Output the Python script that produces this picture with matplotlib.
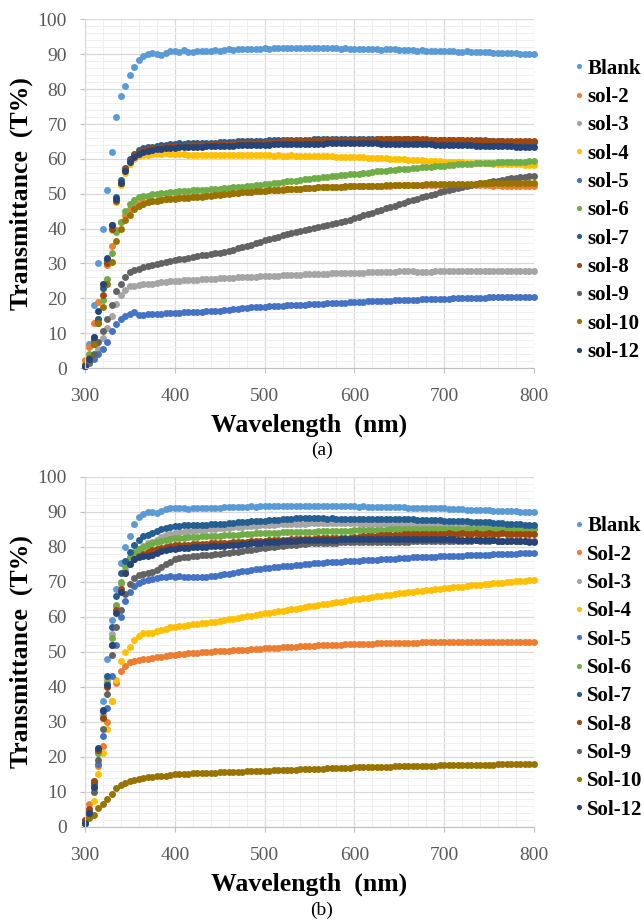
import matplotlib

matplotlib.use("Agg")

import matplotlib.pyplot as plt
from matplotlib.ticker import MultipleLocator

# wavelength grid of the scans (nm)
wavelength = list(range(300, 805, 5))

labels_a = ["Blank", "sol-2", "sol-3", "sol-4", "sol-5", "sol-6",
            "sol-7", "sol-8", "sol-9", "sol-10", "sol-12"]
labels_b = ["Blank", "Sol-2", "Sol-3", "Sol-4", "Sol-5", "Sol-6",
            "Sol-7", "Sol-8", "Sol-9", "Sol-10", "Sol-12"]
colors = ["#5B9BD5", "#ED7D31", "#A5A5A5", "#FFC000", "#4472C4", "#70AD47",
          "#255E91", "#9E480E", "#636363", "#997300", "#264478"]

# ---- panel (a) transmittance (%) ----
blank_a = [
    1.0, 7.0, 18.0, 30.0, 40.0, 51.0, 62.0, 72.0, 78.0, 81.0,
    84.0, 86.5, 88.5, 89.5, 90.0, 90.3, 90.0, 89.7, 90.4, 90.9,
    91.0, 90.8, 91.2, 90.8, 90.7, 90.9, 91.0, 90.9, 91.1, 91.2,
    91.1, 91.3, 91.4, 91.3, 91.5, 91.4, 91.5, 91.6, 91.5, 91.6,
    91.7, 91.6, 91.7, 91.8, 91.7, 91.8, 91.8, 91.7, 91.8, 91.8,
    91.8, 91.7, 91.8, 91.7, 91.8, 91.7, 91.7, 91.6, 91.7, 91.6,
    91.6, 91.6, 91.5, 91.5, 91.4, 91.4, 91.3, 91.4, 91.5, 91.4,
    91.3, 91.2, 91.3, 91.2, 91.1, 91.2, 91.1, 91.1, 91.0, 91.0,
    91.0, 90.9, 90.9, 90.8, 90.8, 90.9, 90.8, 90.7, 90.7, 90.6,
    90.6, 90.5, 90.5, 90.4, 90.4, 90.3, 90.3, 90.2, 90.1, 90.1,
    90.0]
sol2_a = [
    2.3, 6.0, 13.0, 19.0, 24.0, 29.5, 35.0, 39.5, 42.0, 44.0,
    45.5, 46.5, 47.0, 47.5, 47.5, 48.0, 48.0, 48.5, 48.5, 48.7,
    48.8, 49.0, 49.0, 49.2, 49.3, 49.4, 49.5, 49.6, 49.7, 49.8,
    49.9, 50.0, 50.1, 50.2, 50.3, 50.4, 50.5, 50.6, 50.7, 50.8,
    50.9, 51.0, 51.1, 51.2, 51.3, 51.3, 51.4, 51.5, 51.5, 51.6,
    51.7, 51.7, 51.8, 51.8, 51.9, 51.9, 52.0, 52.0, 52.0, 52.1,
    52.1, 52.1, 52.2, 52.2, 52.2, 52.3, 52.3, 52.3, 52.3, 52.4,
    52.4, 52.4, 52.4, 52.4, 52.5, 52.5, 52.5, 52.5, 52.5, 52.5,
    52.5, 52.5, 52.5, 52.5, 52.5, 52.4, 52.5, 52.4, 52.4, 52.4,
    52.4, 52.3, 52.4, 52.3, 52.3, 52.3, 52.2, 52.3, 52.2, 52.2,
    52.2]
sol3_a = [
    0.5, 1.5, 3.0, 5.5, 8.5, 11.5, 15.0, 18.5, 21.0, 22.5,
    23.5, 23.5, 23.8, 24.0, 24.2, 24.0, 24.3, 24.6, 24.8, 24.9,
    25.0, 25.1, 25.2, 25.3, 25.3, 25.4, 25.5, 25.5, 25.6, 25.6,
    25.7, 25.8, 25.8, 25.9, 26.0, 26.0, 26.1, 26.2, 26.2, 26.3,
    26.3, 26.4, 26.5, 26.5, 26.6, 26.6, 26.7, 26.8, 26.8, 26.9,
    26.9, 27.0, 27.0, 27.1, 27.1, 27.2, 27.2, 27.3, 27.3, 27.3,
    27.4, 27.4, 27.4, 27.5, 27.5, 27.5, 27.6, 27.6, 27.6, 27.6,
    27.7, 27.8, 27.7, 27.7, 27.6, 27.5, 27.6, 27.6, 27.7, 27.7,
    27.7, 27.8, 27.7, 27.7, 27.8, 27.7, 27.7, 27.8, 27.7, 27.7,
    27.8, 27.7, 27.7, 27.8, 27.7, 27.7, 27.8, 27.7, 27.7, 27.7,
    27.7]
sol4_a = [
    1.0, 3.0, 8.0, 14.0, 23.0, 30.0, 39.5, 47.5, 52.5, 56.0,
    58.5, 60.0, 60.8, 61.0, 61.2, 61.5, 61.3, 61.5, 61.8, 61.5,
    61.5, 61.4, 61.3, 61.2, 61.2, 61.1, 61.1, 61.0, 61.1, 61.0,
    61.1, 61.0, 61.0, 61.1, 61.0, 61.0, 61.1, 61.0, 61.0, 61.0,
    61.0, 61.0, 60.9, 61.0, 60.9, 60.9, 61.0, 60.9, 60.9, 60.9,
    60.8, 60.8, 60.8, 60.7, 60.7, 60.7, 60.6, 60.6, 60.6, 60.6,
    60.6, 60.5, 60.5, 60.4, 60.4, 60.3, 60.2, 60.2, 60.1, 60.0,
    60.0, 59.9, 59.8, 59.7, 59.7, 59.6, 59.5, 59.5, 59.4, 59.3,
    59.2, 59.2, 59.1, 59.0, 59.0, 58.9, 58.9, 58.8, 58.8, 58.7,
    58.7, 58.6, 58.6, 58.5, 58.5, 58.5, 58.4, 58.4, 58.3, 58.3,
    58.3]
sol5_a = [
    0.5, 1.5, 2.5, 4.0, 5.5, 7.5, 10.5, 12.5, 14.0, 15.0,
    15.5, 16.2, 15.2, 15.3, 15.4, 15.5, 15.5, 15.6, 15.7, 15.8,
    15.9, 15.9, 16.0, 16.0, 16.1, 16.1, 16.2, 16.3, 16.3, 16.4,
    16.5, 16.6, 16.7, 16.9, 17.0, 17.2, 17.3, 17.4, 17.4, 17.5,
    17.6, 17.7, 17.8, 17.8, 17.9, 18.0, 18.0, 18.1, 18.2, 18.2,
    18.3, 18.4, 18.4, 18.5, 18.6, 18.6, 18.7, 18.8, 18.8, 18.9,
    18.9, 19.0, 19.0, 19.1, 19.1, 19.2, 19.3, 19.3, 19.3, 19.4,
    19.4, 19.5, 19.5, 19.6, 19.6, 19.7, 19.7, 19.8, 19.8, 19.9,
    19.9, 19.9, 20.0, 20.0, 20.0, 20.1, 20.1, 20.2, 20.2, 20.2,
    20.3, 20.3, 20.3, 20.4, 20.4, 20.4, 20.5, 20.5, 20.5, 20.5,
    20.5]
sol6_a = [
    1.0, 4.0, 9.0, 14.0, 19.5, 25.5, 33.0, 39.0, 42.0, 45.0,
    47.0, 48.2, 49.0, 49.3, 49.5, 49.8, 50.0, 50.1, 50.3, 50.5,
    50.6, 50.7, 50.8, 50.9, 51.0, 51.1, 51.1, 51.2, 51.3, 51.4,
    51.5, 51.6, 51.7, 51.8, 51.9, 52.0, 52.2, 52.3, 52.4, 52.6,
    52.7, 52.9, 53.1, 53.2, 53.4, 53.6, 53.7, 53.8, 54.0, 54.1,
    54.3, 54.5, 54.6, 54.8, 54.9, 55.0, 55.2, 55.3, 55.4, 55.6,
    55.7, 55.8, 56.0, 56.1, 56.2, 56.4, 56.5, 56.6, 56.7, 56.9,
    57.0, 57.1, 57.2, 57.3, 57.5, 57.6, 57.7, 57.8, 57.9, 58.0,
    58.1, 58.2, 58.3, 58.4, 58.5, 58.5, 58.6, 58.7, 58.8, 58.8,
    58.9, 58.9, 59.0, 59.0, 59.1, 59.1, 59.2, 59.2, 59.2, 59.3,
    59.3]
sol7_a = [
    0.5, 2.5, 8.0, 14.0, 23.0, 31.0, 41.0, 49.0, 54.0, 57.5,
    60.0, 61.5, 62.5, 63.0, 63.3, 63.5, 63.7, 64.0, 64.1, 64.2,
    64.4, 64.5, 64.4, 64.5, 64.6, 64.5, 64.6, 64.7, 64.6, 64.7,
    64.8, 64.8, 64.9, 64.9, 65.0, 65.0, 65.1, 65.1, 65.1, 65.2,
    65.2, 65.3, 65.3, 65.3, 65.4, 65.4, 65.4, 65.5, 65.5, 65.5,
    65.5, 65.6, 65.6, 65.6, 65.6, 65.7, 65.6, 65.7, 65.7, 65.7,
    65.7, 65.7, 65.7, 65.8, 65.7, 65.7, 65.8, 65.7, 65.7, 65.7,
    65.7, 65.6, 65.6, 65.6, 65.6, 65.5, 65.5, 65.5, 65.5, 65.4,
    65.4, 65.4, 65.3, 65.3, 65.3, 65.2, 65.2, 65.2, 65.1, 65.1,
    65.1, 65.0, 65.0, 65.0, 64.9, 64.9, 64.9, 64.8, 64.8, 64.8,
    64.8]
sol8_a = [
    1.0, 3.0, 7.0, 13.0, 21.0, 30.0, 40.0, 48.0, 53.0, 57.0,
    59.5, 61.0, 62.0, 62.5, 62.8, 63.0, 63.2, 63.4, 63.5, 63.6,
    63.7, 63.8, 63.8, 63.9, 64.0, 64.0, 64.1, 64.1, 64.2, 64.2,
    64.3, 64.3, 64.4, 64.4, 64.5, 64.5, 64.6, 64.6, 64.7, 64.7,
    64.8, 64.8, 64.9, 64.9, 65.0, 65.0, 65.0, 65.1, 65.1, 65.1,
    65.2, 65.2, 65.2, 65.3, 65.3, 65.3, 65.4, 65.4, 65.4, 65.4,
    65.5, 65.5, 65.5, 65.5, 65.5, 65.6, 65.6, 65.6, 65.6, 65.6,
    65.6, 65.6, 65.6, 65.6, 65.6, 65.6, 65.6, 65.5, 65.5, 65.5,
    65.5, 65.5, 65.4, 65.4, 65.4, 65.4, 65.3, 65.3, 65.3, 65.3,
    65.2, 65.2, 65.2, 65.1, 65.1, 65.1, 65.0, 65.0, 65.0, 65.0,
    65.0]
sol9_a = [
    0.5, 2.0, 4.0, 7.5, 10.5, 14.0, 18.0, 22.0, 24.0, 26.0,
    27.5, 28.0, 28.5, 29.0, 29.2, 29.5, 29.8, 30.2, 30.5, 30.7,
    31.0, 31.2, 31.4, 31.6, 31.8, 32.0, 32.3, 32.5, 32.7, 32.9,
    33.1, 33.4, 33.7, 34.0, 34.3, 34.7, 35.0, 35.4, 35.8, 36.2,
    36.7, 37.0, 37.4, 37.7, 38.1, 38.4, 38.8, 39.1, 39.4, 39.7,
    40.0, 40.2, 40.5, 40.7, 41.0, 41.3, 41.6, 41.9, 42.2, 42.6,
    43.0, 43.4, 43.8, 44.2, 44.6, 45.0, 45.4, 45.8, 46.2, 46.6,
    47.0, 47.4, 47.8, 48.2, 48.6, 49.0, 49.3, 49.7, 50.0, 50.4,
    50.7, 51.0, 51.3, 51.6, 51.9, 52.2, 52.4, 52.7, 53.0, 53.2,
    53.4, 53.6, 53.8, 54.0, 54.2, 54.4, 54.5, 54.7, 54.8, 55.0,
    55.0]
sol10_a = [
    1.0, 3.0, 7.0, 13.0, 17.5, 24.0, 30.5, 36.5, 40.0, 42.5,
    44.0, 45.5, 46.5, 47.0, 47.5, 47.8, 48.0, 48.2, 48.4, 48.5,
    48.6, 48.7, 48.8, 48.9, 49.0, 49.1, 49.2, 49.4, 49.5, 49.6,
    49.7, 49.8, 50.0, 50.1, 50.2, 50.4, 50.5, 50.6, 50.7, 50.8,
    50.9, 51.0, 51.1, 51.2, 51.2, 51.3, 51.4, 51.5, 51.5, 51.6,
    51.7, 51.7, 51.8, 51.8, 51.9, 51.9, 52.0, 52.0, 52.1, 52.1,
    52.1, 52.2, 52.2, 52.2, 52.3, 52.3, 52.3, 52.4, 52.4, 52.4,
    52.5, 52.5, 52.5, 52.6, 52.6, 52.6, 52.7, 52.7, 52.7, 52.7,
    52.8, 52.8, 52.8, 52.8, 52.9, 52.9, 52.9, 52.9, 53.0, 53.0,
    53.0, 53.0, 53.0, 53.1, 53.1, 53.1, 53.1, 53.1, 53.2, 53.2,
    53.2]
sol12_a = [
    0.5, 2.5, 9.0, 16.5, 24.0, 31.5, 41.0, 48.5, 53.0, 56.5,
    59.0, 60.5, 61.5, 62.0, 62.3, 62.5, 62.7, 62.8, 63.0, 63.1,
    63.2, 63.3, 63.3, 63.4, 63.4, 63.5, 63.5, 63.6, 63.6, 63.7,
    63.7, 63.8, 63.8, 63.8, 63.9, 63.9, 64.0, 64.0, 64.0, 64.1,
    64.1, 64.1, 64.2, 64.2, 64.2, 64.3, 64.3, 64.3, 64.3, 64.4,
    64.4, 64.4, 64.4, 64.4, 64.5, 64.5, 64.5, 64.5, 64.5, 64.5,
    64.5, 64.5, 64.5, 64.5, 64.5, 64.5, 64.4, 64.4, 64.4, 64.4,
    64.4, 64.3, 64.3, 64.3, 64.3, 64.2, 64.2, 64.2, 64.1, 64.1,
    64.1, 64.0, 64.0, 64.0, 63.9, 63.9, 63.9, 63.8, 63.8, 63.8,
    63.7, 63.7, 63.7, 63.6, 63.6, 63.6, 63.5, 63.5, 63.5, 63.5,
    63.5]

# ---- panel (b) transmittance (%) ----
blank_b = [
    1.0, 5.0, 13.0, 21.0, 36.0, 48.0, 59.0, 68.0, 75.5, 80.0,
    83.0, 86.5, 88.5, 89.3, 90.0, 90.0, 89.8, 90.3, 90.8, 91.0,
    91.0, 91.1, 91.0, 90.9, 91.0, 91.0, 91.1, 91.0, 91.1, 91.2,
    91.2, 91.3, 91.3, 91.4, 91.4, 91.5, 91.5, 91.6, 91.5, 91.6,
    91.6, 91.7, 91.6, 91.7, 91.8, 91.7, 91.7, 91.8, 91.7, 91.7,
    91.8, 91.7, 91.8, 91.7, 91.6, 91.7, 91.6, 91.7, 91.6, 91.6,
    91.6, 91.5, 91.6, 91.5, 91.5, 91.4, 91.5, 91.4, 91.4, 91.3,
    91.3, 91.3, 91.2, 91.2, 91.1, 91.2, 91.1, 91.1, 91.0, 91.0,
    91.0, 90.9, 90.9, 90.8, 90.8, 90.7, 90.7, 90.6, 90.6, 90.5,
    90.5, 90.4, 90.4, 90.3, 90.3, 90.2, 90.2, 90.1, 90.1, 90.0,
    90.0]
sol2_b = [
    2.0, 6.5, 12.0, 17.5, 23.0, 30.0, 36.0, 41.0, 44.5, 46.0,
    47.0, 47.5, 47.8, 48.0, 48.0, 48.3, 48.5, 48.6, 48.8, 49.0,
    49.2, 49.3, 49.4, 49.6, 49.7, 49.8, 49.9, 50.0, 50.1, 50.2,
    50.3, 50.4, 50.4, 50.5, 50.6, 50.7, 50.7, 50.8, 50.9, 50.9,
    51.0, 51.1, 51.2, 51.2, 51.3, 51.4, 51.4, 51.5, 51.6, 51.7,
    51.8, 51.8, 51.9, 51.9, 52.0, 52.0, 52.1, 52.1, 52.2, 52.2,
    52.3, 52.3, 52.4, 52.4, 52.4, 52.5, 52.5, 52.5, 52.6, 52.6,
    52.7, 52.7, 52.7, 52.7, 52.7, 52.8, 52.8, 52.8, 52.8, 52.8,
    52.8, 52.8, 52.9, 52.8, 52.8, 52.8, 52.9, 52.8, 52.8, 52.8,
    52.8, 52.9, 52.8, 52.8, 52.8, 52.9, 52.8, 52.8, 52.8, 52.8,
    52.8]
sol3_b = [
    1.0, 4.0, 12.0, 22.0, 32.0, 42.0, 55.0, 63.0, 69.5, 73.5,
    76.5, 78.0, 79.5, 80.3, 81.0, 81.5, 82.0, 82.8, 83.3, 83.7,
    84.0, 84.2, 84.4, 84.5, 84.6, 84.8, 84.9, 85.0, 85.1, 85.2,
    85.3, 85.4, 85.5, 85.6, 85.7, 85.8, 85.9, 86.0, 86.1, 86.2,
    86.3, 86.3, 86.4, 86.5, 86.5, 86.6, 86.6, 86.7, 86.7, 86.7,
    86.8, 86.8, 86.9, 86.8, 86.8, 86.9, 86.8, 86.8, 86.9, 86.8,
    86.8, 86.8, 86.7, 86.7, 86.7, 86.7, 86.6, 86.6, 86.6, 86.5,
    86.5, 86.5, 86.5, 86.4, 86.4, 86.4, 86.4, 86.3, 86.3, 86.3,
    86.3, 86.2, 86.2, 86.2, 86.1, 86.1, 86.1, 86.0, 86.0, 86.0,
    86.0, 85.9, 85.9, 85.8, 85.8, 85.7, 85.7, 85.6, 85.6, 85.5,
    85.5]
sol4_b = [
    1.0, 3.0, 7.5, 15.0, 21.0, 28.0, 36.0, 42.0, 47.5, 50.0,
    51.5, 53.5, 54.5, 55.3, 55.5, 55.5, 56.0, 56.3, 56.7, 57.0,
    57.2, 57.4, 57.5, 57.7, 57.9, 58.0, 58.2, 58.4, 58.5, 58.7,
    58.8, 59.0, 59.3, 59.5, 59.7, 60.0, 60.2, 60.4, 60.6, 60.8,
    61.0, 61.2, 61.4, 61.6, 61.8, 62.0, 62.2, 62.4, 62.6, 62.8,
    63.0, 63.2, 63.4, 63.6, 63.8, 64.0, 64.2, 64.4, 64.6, 64.8,
    65.0, 65.2, 65.4, 65.5, 65.7, 65.9, 66.1, 66.3, 66.4, 66.6,
    66.8, 66.9, 67.1, 67.2, 67.4, 67.5, 67.7, 67.8, 67.9, 68.1,
    68.2, 68.3, 68.5, 68.6, 68.7, 68.8, 69.0, 69.1, 69.2, 69.4,
    69.5, 69.6, 69.7, 69.8, 70.0, 70.1, 70.2, 70.3, 70.4, 70.5,
    70.6]
sol5_b = [
    1.0, 4.0, 11.0, 18.0, 26.0, 34.0, 43.0, 52.0, 60.0, 64.5,
    67.0, 68.8, 69.8, 70.3, 70.6, 70.8, 71.2, 71.5, 71.4, 71.6,
    71.5, 71.6, 71.5, 71.4, 71.5, 71.3, 71.4, 71.5, 71.6, 71.8,
    72.0, 72.2, 72.4, 72.6, 72.8, 73.0, 73.2, 73.4, 73.6, 73.8,
    74.0, 74.1, 74.2, 74.4, 74.5, 74.6, 74.7, 74.8, 74.9, 75.1,
    75.2, 75.3, 75.4, 75.5, 75.6, 75.7, 75.8, 75.8, 75.9, 76.0,
    76.0, 76.1, 76.2, 76.3, 76.4, 76.4, 76.5, 76.6, 76.7, 76.7,
    76.8, 76.8, 76.9, 77.0, 77.0, 77.1, 77.1, 77.2, 77.2, 77.3,
    77.3, 77.4, 77.4, 77.5, 77.5, 77.6, 77.6, 77.7, 77.7, 77.8,
    77.8, 77.9, 77.9, 78.0, 78.0, 78.1, 78.1, 78.2, 78.2, 78.3,
    78.3]
sol6_b = [
    1.0, 4.0, 12.0, 21.0, 31.0, 41.0, 54.0, 63.5, 70.0, 74.5,
    77.0, 78.5, 79.5, 80.0, 80.5, 81.0, 81.5, 81.8, 82.0, 82.3,
    82.5, 82.6, 82.7, 82.8, 82.9, 82.9, 83.0, 83.1, 83.1, 83.2,
    83.2, 83.3, 83.4, 83.5, 83.5, 83.6, 83.7, 83.8, 83.9, 83.9,
    84.0, 84.0, 84.1, 84.1, 84.2, 84.2, 84.3, 84.3, 84.3, 84.4,
    84.4, 84.4, 84.5, 84.5, 84.6, 84.6, 84.6, 84.7, 84.7, 84.7,
    84.8, 84.8, 84.8, 84.8, 84.9, 84.9, 84.9, 84.9, 85.0, 85.0,
    85.0, 85.1, 85.0, 85.0, 85.1, 85.0, 85.0, 85.1, 85.0, 85.0,
    85.0, 85.1, 85.0, 85.0, 84.9, 85.0, 85.0, 85.1, 85.0, 85.0,
    85.0, 84.9, 85.0, 85.0, 85.1, 85.0, 85.0, 84.9, 85.0, 85.0,
    85.0]
sol7_b = [
    1.0, 4.5, 12.5, 22.0, 33.0, 43.0, 57.0, 66.0, 72.5, 76.0,
    78.7, 80.5, 82.0, 83.0, 83.5, 84.0, 84.5, 85.0, 85.5, 85.8,
    86.0, 86.1, 86.2, 86.2, 86.3, 86.3, 86.4, 86.4, 86.5, 86.5,
    86.6, 86.7, 86.8, 86.9, 87.0, 87.1, 87.2, 87.3, 87.4, 87.5,
    87.5, 87.6, 87.7, 87.8, 87.9, 88.0, 88.1, 88.2, 88.2, 88.2,
    88.2, 88.3, 88.2, 88.2, 88.1, 88.2, 88.1, 88.1, 88.0, 88.1,
    88.0, 88.0, 88.1, 88.0, 88.0, 88.1, 88.0, 88.0, 87.9, 88.0,
    88.0, 87.9, 87.9, 87.9, 87.8, 87.8, 87.8, 87.7, 87.7, 87.6,
    87.5, 87.5, 87.4, 87.4, 87.3, 87.3, 87.2, 87.2, 87.1, 87.1,
    87.0, 86.9, 86.9, 86.8, 86.7, 86.7, 86.6, 86.5, 86.4, 86.4,
    86.3]
sol8_b = [
    2.0, 5.0, 13.0, 22.0, 31.0, 40.0, 52.0, 62.0, 68.0, 72.5,
    75.0, 76.5, 77.5, 78.0, 78.5, 79.0, 79.5, 79.8, 80.0, 80.3,
    80.5, 80.5, 80.6, 80.7, 80.8, 80.8, 80.9, 80.9, 81.0, 81.0,
    81.0, 81.1, 81.2, 81.3, 81.4, 81.5, 81.5, 81.6, 81.7, 81.7,
    81.8, 81.9, 81.9, 82.0, 82.1, 82.1, 82.2, 82.2, 82.3, 82.3,
    82.4, 82.4, 82.5, 82.5, 82.6, 82.6, 82.6, 82.7, 82.7, 82.7,
    82.8, 82.9, 83.0, 83.1, 83.2, 83.2, 83.3, 83.4, 83.4, 83.5,
    83.5, 83.6, 83.6, 83.7, 83.7, 83.7, 83.8, 83.8, 83.8, 83.8,
    83.8, 83.9, 83.8, 83.8, 83.9, 83.8, 83.8, 83.9, 83.8, 83.8,
    83.9, 83.8, 83.8, 83.9, 83.8, 83.8, 83.7, 83.8, 83.8, 83.8,
    83.8]
sol9_b = [
    1.0, 3.5, 10.0, 19.0, 28.0, 38.0, 49.0, 57.0, 62.0, 66.5,
    69.5, 71.0, 72.0, 72.3, 72.5, 72.8, 73.5, 74.3, 75.0, 75.8,
    76.5, 76.8, 77.0, 77.2, 77.3, 77.5, 77.6, 77.7, 77.8, 77.9,
    78.0, 78.2, 78.3, 78.5, 78.7, 78.9, 79.0, 79.2, 79.4, 79.6,
    79.8, 80.0, 80.1, 80.3, 80.4, 80.5, 80.6, 80.7, 80.8, 80.9,
    81.0, 81.0, 81.1, 81.1, 81.2, 81.2, 81.2, 81.3, 81.3, 81.3,
    81.3, 81.3, 81.4, 81.4, 81.4, 81.4, 81.4, 81.5, 81.5, 81.5,
    81.5, 81.5, 81.5, 81.6, 81.6, 81.6, 81.6, 81.7, 81.7, 81.7,
    81.7, 81.8, 81.8, 81.7, 81.8, 81.8, 81.8, 81.9, 81.8, 81.8,
    81.8, 81.9, 81.8, 81.8, 81.8, 81.9, 81.8, 81.8, 81.8, 81.8,
    81.8]
sol10_b = [
    1.0, 2.5, 3.5, 5.5, 6.5, 8.0, 9.5, 11.0, 12.0, 12.5,
    13.0, 13.5, 13.8, 14.0, 14.2, 14.3, 14.5, 14.6, 14.7, 14.8,
    15.0, 15.0, 15.1, 15.2, 15.3, 15.3, 15.4, 15.4, 15.5, 15.5,
    15.6, 15.6, 15.7, 15.7, 15.8, 15.8, 15.9, 15.9, 16.0, 16.0,
    16.1, 16.1, 16.2, 16.2, 16.3, 16.3, 16.4, 16.4, 16.5, 16.5,
    16.6, 16.6, 16.7, 16.7, 16.8, 16.8, 16.8, 16.9, 16.9, 16.9,
    17.0, 17.0, 17.0, 17.1, 17.1, 17.1, 17.2, 17.2, 17.2, 17.3,
    17.3, 17.3, 17.4, 17.4, 17.4, 17.5, 17.5, 17.5, 17.5, 17.6,
    17.6, 17.6, 17.6, 17.7, 17.7, 17.7, 17.7, 17.8, 17.8, 17.8,
    17.8, 17.8, 17.9, 17.9, 17.9, 17.9, 18.0, 18.0, 18.0, 18.0,
    18.0]
sol12_b = [
    1.0, 4.0, 11.5, 22.5, 33.4, 40.6, 52.0, 61.0, 67.0, 72.5,
    75.0, 76.5, 77.0, 77.3, 77.5, 77.8, 78.3, 78.8, 79.2, 79.4,
    79.5, 79.6, 79.7, 79.8, 79.9, 80.0, 80.1, 80.1, 80.2, 80.3,
    80.3, 80.4, 80.5, 80.6, 80.7, 80.8, 80.9, 81.0, 81.1, 81.2,
    81.3, 81.4, 81.5, 81.5, 81.6, 81.7, 81.8, 81.8, 81.9, 81.9,
    82.0, 82.0, 82.0, 82.1, 82.1, 82.1, 82.1, 82.2, 82.2, 82.2,
    82.2, 82.3, 82.3, 82.3, 82.3, 82.4, 82.4, 82.4, 82.4, 82.4,
    82.4, 82.4, 82.4, 82.4, 82.3, 82.3, 82.3, 82.3, 82.3, 82.2,
    82.2, 82.2, 82.2, 82.1, 82.1, 82.1, 82.0, 82.0, 82.0, 81.9,
    81.9, 81.9, 81.8, 81.8, 81.7, 81.7, 81.7, 81.6, 81.6, 81.5,
    81.5]

series_a = [blank_a, sol2_a, sol3_a, sol4_a, sol5_a, sol6_a,
            sol7_a, sol8_a, sol9_a, sol10_a, sol12_a]
series_b = [blank_b, sol2_b, sol3_b, sol4_b, sol5_b, sol6_b,
            sol7_b, sol8_b, sol9_b, sol10_b, sol12_b]

plt.rcParams["font.family"] = ["Liberation Serif", "DejaVu Serif"]


def draw_panel(ax, series, labels):
    for vals, lab, col in zip(series, labels, colors):
        ax.plot(wavelength, vals, linestyle="none", marker="o", markersize=5,
                markeredgewidth=0, color=col, label=lab, clip_on=False)

    ax.set_xlim(300, 800)
    ax.set_ylim(0, 100)
    ax.xaxis.set_major_locator(MultipleLocator(100))
    ax.xaxis.set_minor_locator(MultipleLocator(20))
    ax.yaxis.set_major_locator(MultipleLocator(10))
    ax.yaxis.set_minor_locator(MultipleLocator(2))

    ax.set_axisbelow(True)
    ax.grid(which="major", color="#d9d9d9", linewidth=0.9)
    ax.grid(which="minor", color="#f0f0f0", linewidth=0.7)

    for side in ("top", "right"):
        ax.spines[side].set_visible(False)
    ax.spines["left"].set_color("#d9d9d9")
    ax.spines["bottom"].set_color("#bfbfbf")

    ax.tick_params(which="major", direction="out", length=3.6, color="#bfbfbf",
                   labelcolor="#595959", labelsize=14)
    ax.tick_params(axis="y", pad=9.4)
    ax.tick_params(axis="x", pad=10.5)
    ax.tick_params(which="minor", length=0)

    ax.set_xlabel("Wavelength  (nm)", fontsize=18.5, fontweight="bold", va="center")
    ax.set_ylabel("Transmittance  (T%)", fontsize=18.5, fontweight="bold", va="center")
    ax.xaxis.set_label_coords(0.5, -0.164)
    ax.yaxis.set_label_coords(-0.1425, 0.5)

    ax.legend(loc="upper left", bbox_to_anchor=(1.091, 0.888), frameon=False,
              borderpad=0, borderaxespad=0, handlelength=0.4, handletextpad=0.2,
              labelspacing=0.4, markerscale=0.75,
              prop={"weight": "bold", "size": 15})


fig = plt.figure(figsize=(6.44, 9.24), dpi=100)
ax_a = fig.add_axes([0.132, 0.6017, 0.697, 0.3772])
ax_b = fig.add_axes([0.132, 0.105, 0.697, 0.3788])

draw_panel(ax_a, series_a, labels_a)
draw_panel(ax_b, series_b, labels_b)

fig.text(0.5, 1 - 450 / 924, "(a)", ha="center", va="center", fontsize=14)
fig.text(0.5, 1 - 910 / 924, "(b)", ha="center", va="center", fontsize=14)

fig.savefig("out.png", dpi=100)
print("Plot saved as out.png")
